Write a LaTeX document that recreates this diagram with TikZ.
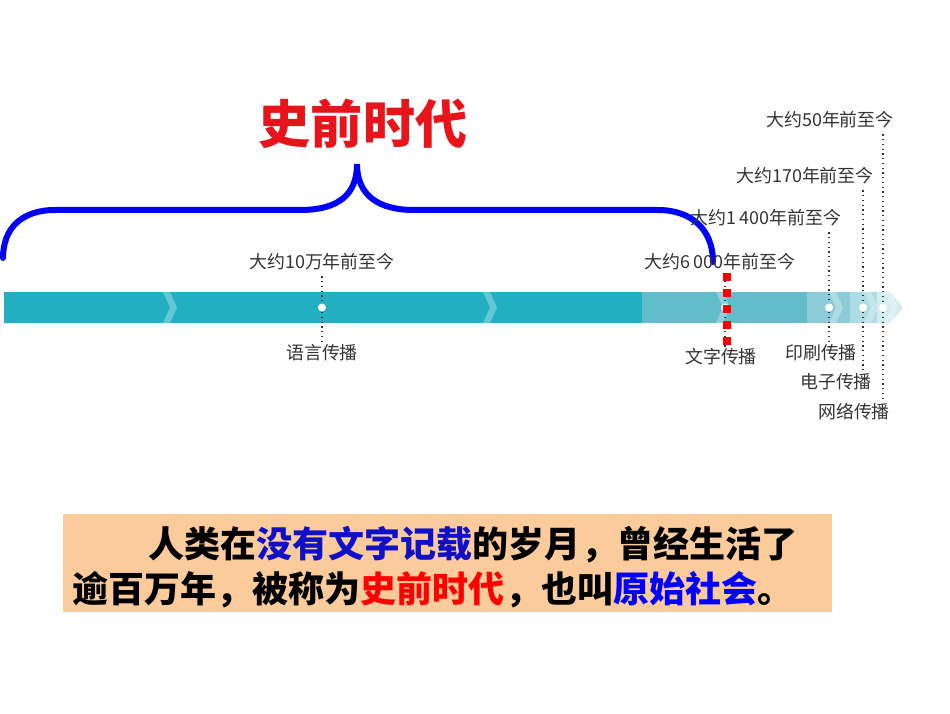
\documentclass[tikz,border=0pt]{standalone}
\usepackage{fontspec}
\newfontfamily\cjk{Noto Sans CJK SC}
\usepackage{xcolor}
\usetikzlibrary{positioning}

\definecolor{barA}{HTML}{22AFC2}
\definecolor{barB}{HTML}{62BDCB}
\definecolor{barC}{HTML}{8CCCD8}
\definecolor{barD}{HTML}{AEDCE4}
\definecolor{barE}{HTML}{D2ECF1}
\definecolor{peach}{HTML}{FCCB9B}
\definecolor{inkblue}{HTML}{1010C8}
\definecolor{titlered}{HTML}{E8141B}

\tikzset{
	tick/.style={font=\cjk\fontsize{5.1}{6}\selectfont, text=black!80, inner sep=0.4pt},
	dot/.style={circle, fill=white, inner sep=0pt, minimum size=0.8mm},
	guide/.style={densely dotted, line width=0.35pt, black!80},
	body/.style={font=\cjk\bfseries\fontsize{10.25}{12}\selectfont, inner sep=0pt, anchor=west},
}

\begin{document}
\begin{tikzpicture}[x=0.1mm, y=-0.1mm]
			\useasboundingbox (0,0) rectangle (950,713);
			% title and brace
			\node[font=\cjk\bfseries\fontsize{14.8}{16}\selectfont, text=titlered, inner sep=0pt] (title) at (363,124) {史前时代};
			\draw[blue, line width=0.6mm, line cap=round]
			(3,258) .. controls (3,228) and (22,210) .. (55,210) -- (300,210)
			.. controls (338,210) and (357,195) .. (357,164)
			.. controls (357,195) and (378,210) .. (414,210) -- (658,210)
			.. controls (692,210) and (713,230) .. (713,262);
			% timeline bar
			\fill[barA] (4,292) rectangle (642,323);
			\fill[barB] (642,292) rectangle (807,323);
			\fill[barC] (807,292) rectangle (850,323);
			\fill[barD] (850,292) rectangle (877,323);
			\fill[barE] (877,292) -- (890,292) -- (903,307.5) -- (890,323) -- (877,323) -- cycle;
			\foreach \cx in {163,483,716,829,864,884}
			\fill[white, opacity=.3] (\cx,292) -- (\cx+7,292) -- (\cx+14,307.5) -- (\cx+7,323) -- (\cx,323) -- (\cx+7,307.5) -- cycle;
			% labels above and below
			\node[tick] (t1) at (322,262) {大约10万年前至今};
			\node[tick] (t2) at (720,262) {大约6\,000年前至今};
			\node[tick] (t3) at (766,218) {大约1\,400年前至今};
			\node[tick] (t4) at (805,176) {大约170年前至今};
			\node[tick] (t5) at (830,120) {大约50年前至今};
			\node[tick] (b1) at (322,353) {语言传播};
			\node[tick] (b2) at (721,357) {文字传播};
			\node[tick] (b3) at (821,353) {印刷传播};
			\node[tick] (b4) at (836,382) {电子传播};
			\node[tick] (b5) at (854,412) {网络传播};
			\foreach \i/\x in {1/322, 2/725, 3/829, 4/863, 5/883}
			\node[dot] (d\i) at (\x,307.5) {};
			\foreach \i in {1,...,5}
			\draw[guide] (t\i.south -| d\i) ++(0,4) -- (d\i) -- (b\i.north -| d\i);
			% red marker
			\coordinate (m1) at (727,273);
			\coordinate (m2) at (727,346);
			\draw[red, line width=0.72mm, dash pattern=on 0.75mm off 0.85mm] (m1) -- (m2);
			% text box
			\fill[peach] (63,514) rectangle (832,612);
			\node[body] (l1) at (148,545) {人类在\textcolor{inkblue}{没有文字记载}的岁月，曾经生活了};
			\node[body] (l2) at (72,590) {逾百万年，被称为\textcolor{red}{史前时代}，也叫\textcolor{blue}{原始社会}。};
		\end{tikzpicture}
\end{document}
